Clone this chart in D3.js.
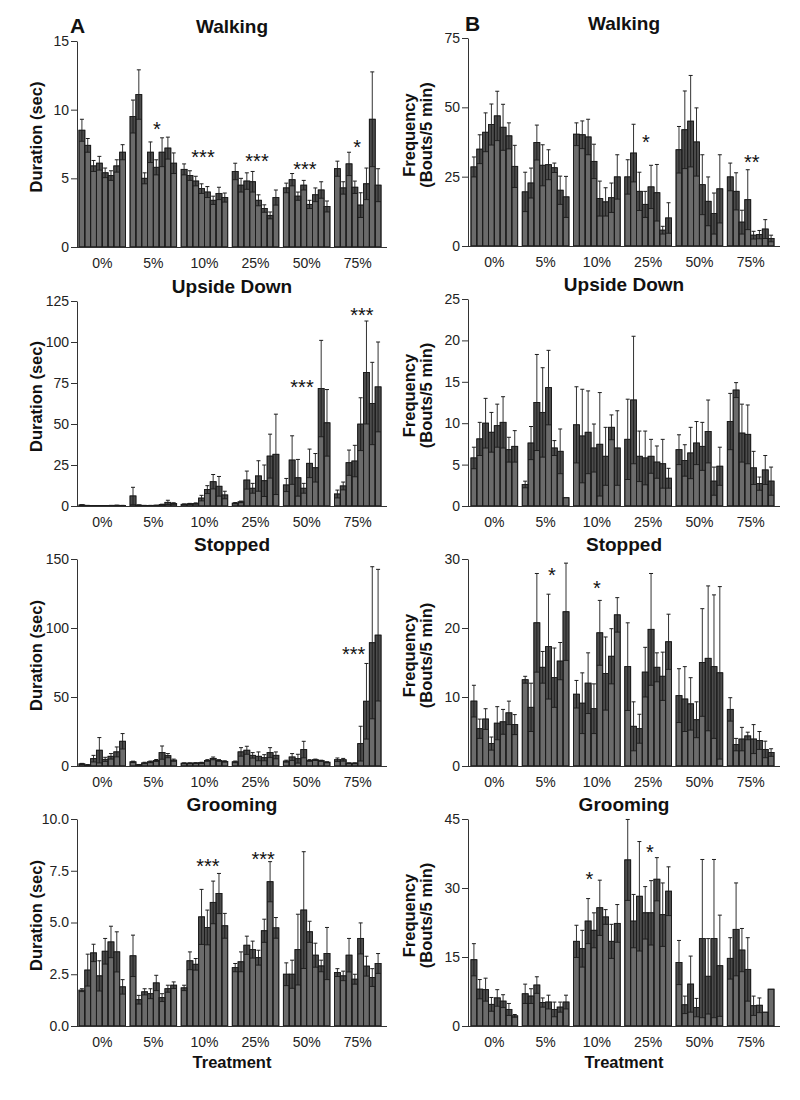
<!DOCTYPE html>
<html><head><meta charset="utf-8">
<script src="https://cdn.jsdelivr.net/npm/d3@7"></script>
<style>body{margin:0;background:#fff}text{font-family:"Liberation Sans",Arial,sans-serif}</style>
</head><body><svg id="c" width="800" height="1100"></svg>
<script>
const groups = ["0%","5%","10%","25%","50%","75%"];

// Walking duration (sec)
const walkDurMean = [[8.5,7.4,5.9,6.1,5.4,5.2,5.9,6.9],[9.5,11.1,5.0,6.9,5.8,6.9,7.2,6.1],[5.65,5.2,4.8,4.25,4.0,3.4,3.9,3.6],[5.5,4.5,4.8,4.75,3.4,2.8,2.3,3.6],[4.3,4.9,3.7,4.5,3.1,3.8,4.15,2.95],[5.7,4.3,6.05,4.35,3.05,4.6,9.3,4.5]];
const walkDurSE = [[0.8,0.5,0.4,0.5,0.35,0.35,0.45,0.55],[1.2,1.8,0.4,0.75,0.55,1.05,0.8,0.75],[0.4,0.35,0.35,0.35,0.4,0.3,0.45,0.33],[0.6,0.5,0.6,0.75,0.4,0.27,0.25,0.55],[0.35,0.45,0.3,0.35,0.3,0.5,0.6,0.4],[0.55,0.45,0.85,0.45,0.9,1.15,3.45,1.2]];
const walkDurTicks = [0,5,10,15];
const walkDurStars = [{g:"5%",at:4.6,v:8.9,t:"*"},{g:"10%",at:3.75,v:6.85,t:"***"},{g:"25%",at:4.25,v:6.55,t:"***"},{g:"50%",at:3.7,v:5.97,t:"***"},{g:"75%",at:3.9,v:7.57,t:"*"}];

// Walking frequency
const walkFreqMean = [[28.5,34.9,41.0,43.8,46.9,42.8,39.7,28.7],[19.5,22.7,37.3,29.1,29.3,28.2,20.1,17.7],[40.3,40.1,39.3,30.5,17.1,15.9,17.4,24.9],[24.9,33.5,19.7,15.0,21.3,19.2,5.7,10.1],[34.7,41.9,45.0,37.5,22.1,16.1,11.7,20.6],[24.9,19.7,8.6,16.7,3.9,4.1,6.1,2.7]];
const walkFreqSE = [[3.6,5.2,7.0,7.4,8.9,8.3,4.7,7.6],[7.1,5.4,6.3,7.4,5.4,1.7,5.1,7.4],[4.1,5.0,6.4,6.2,6.3,5.1,5.3,8.0],[6.2,10.4,6.9,4.7,7.8,10.2,1.4,5.5],[8.4,14.0,16.5,12.3,10.8,8.8,7.4,12.3],[5.0,6.7,4.3,10.8,1.4,1.5,3.4,1.2]];
const walkFreqTicks = [0,25,50,75];
const walkFreqStars = [{g:"25%",at:3.6,v:38.9,t:"*"},{g:"75%",at:4.2,v:31.7,t:"**"}];

// Upside down duration
const upDurMean = [[0.6,0.3,0.2,0.2,0.2,0.3,0.4,0.3],[6.1,0.5,0.3,0.3,0.4,0.8,2.2,1.5],[1.0,1.3,1.5,4.8,10.0,14.8,12.0,6.7],[1.7,2.5,15.8,10.8,18.3,15.4,30.4,31.5],[12.8,28.0,17.2,10.8,26.0,23.3,71.6,50.7],[7.3,12.2,26.4,27.4,49.9,81.4,62.5,72.6]];
const upDurSE = [[0.2,0.1,0.1,0.1,0.1,0.1,0.1,0.1],[5.3,0.2,0.1,0.1,0.1,0.3,1.3,0.5],[0.3,0.3,0.4,1.7,2.4,4.4,6.0,2.3],[0.4,0.5,5.5,3.0,9.3,9.6,13.4,24.5],[4.0,14.8,11.2,3.0,8.7,8.7,29.4,20.3],[2.4,2.4,7.7,9.6,16.1,31.4,25.1,27.4]];
const upDurTicks = [0,25,50,75,100,125];
const upDurStars = [{g:"50%",at:3.2,v:75.0,t:"***"},{g:"75%",at:4.7,v:118.9,t:"***"}];

// Upside down frequency
const upFreqMean = [[5.8,8.1,10.0,8.9,9.7,10.1,6.8,7.2],[2.6,7.6,12.5,11.3,14.3,7.0,6.6,1.0],[9.8,8.45,8.9,7.0,7.45,6.0,9.5,7.0],[8.05,12.8,6.0,5.8,6.0,5.3,5.1,3.35],[6.8,5.5,6.4,7.6,7.2,9.0,3.0,4.8],[10.2,14.0,8.8,8.65,4.6,2.7,4.35,3.0]];
const upFreqSE = [[1.3,2.0,3.0,2.4,2.6,3.1,1.5,1.9],[0.4,2.0,5.8,5.4,4.5,0.9,2.7,0],[4.6,5.65,5.0,2.9,6.25,3.5,1.5,4.5],[4.85,7.7,3.05,3.25,2.05,1.95,2.95,1.2],[1.8,1.9,3.1,2.6,2.9,3.8,1.7,2.3],[3.4,0.9,3.5,3.55,2.0,0.8,1.75,1.7]];
const upFreqTicks = [0,5,10,15,20,25];
const upFreqStars = [];

// Stopped duration
const stopDurMean = [[1.5,0.7,5.3,11.4,4.8,7.0,10.2,17.9],[3.0,0.8,2.2,3.0,4.0,9.7,7.5,4.2],[2.0,2.0,2.1,2.3,4.0,5.5,4.0,3.3],[3.0,10.2,11.4,7.7,7.0,6.0,9.7,7.7],[3.5,6.5,5.3,11.9,4.0,4.5,3.8,2.7],[4.5,4.5,2.0,2.0,16.2,46.9,89.3,94.8]];
const stopDurSE = [[0.4,0.3,2.4,9.2,1.5,2.0,3.6,5.6],[0.5,0.3,0.5,0.6,0.7,4.8,1.5,0.8],[0.3,0.3,0.3,0.4,0.6,1.0,0.6,0.5],[0.6,3.1,2.9,2.0,3.2,2.2,3.6,2.5],[0.7,2.5,3.2,6.0,0.6,0.5,0.4,0.4],[1.3,1.0,0.3,0.3,12.6,27.4,55.1,47.7]];
const stopDurTicks = [0,50,100,150];
const stopDurStars = [{g:"75%",at:3.3,v:84,t:"***"}];

// Stopped frequency
const stopFreqMean = [[9.4,5.4,6.8,3.25,6.2,6.4,7.7,6.0],[12.5,8.5,20.75,14.3,17.3,12.8,15.2,22.35],[10.4,9.1,12.0,8.3,19.3,13.4,15.9,21.9],[14.4,5.75,5.4,13.6,19.8,14.3,13.0,18.0],[10.2,9.7,9.0,6.7,15.0,15.6,14.4,13.5],[8.2,3.1,3.9,4.35,3.9,3.7,2.4,1.95]];
const stopFreqSE = [[2.3,1.4,1.5,0.95,2.4,1.8,1.7,1.45],[0.5,3.5,7.15,2.3,7.6,4.3,2.7,7.05],[2.0,4.4,4.4,3.6,4.7,5.3,4.0,2.5],[6.35,3.55,2.1,3.6,8.1,2.1,3.5,4.0],[3.9,4.7,3.8,2.6,7.8,10.5,10.4,12.5],[1.7,0.9,1.7,0.55,2.1,1.3,1.2,0.55]];
const stopFreqTicks = [0,10,20,30];
const stopFreqStars = [{g:"5%",at:5.1,v:28.3,t:"*"},{g:"10%",at:4.0,v:26.4,t:"*"}];

// Grooming duration
const groomDurMean = [[1.73,2.7,3.53,2.42,3.61,4.06,3.58,1.89],[3.39,1.27,1.65,1.56,2.08,1.37,1.8,1.97],[1.84,3.15,2.98,5.27,4.76,5.97,6.4,4.84],[2.82,3.1,3.9,3.69,3.3,4.6,6.97,4.74],[2.5,2.5,3.69,5.6,4.55,3.42,2.9,3.5],[2.58,2.42,3.42,2.26,4.23,2.89,2.34,3.02]];
const groomDurSE = [[0.07,0.77,0.42,0.73,0.62,0.76,0.97,0.35],[1.0,0.21,0.15,0.24,0.37,0.19,0.17,0.16],[0.13,0.43,0.28,1.33,0.84,1.03,0.97,0.6],[0.2,0.48,0.44,0.41,0.36,0.56,0.97,0.5],[0.55,0.68,1.71,2.82,0.51,0.58,0.28,1.26],[0.19,0.23,0.81,0.24,0.75,0.48,0.43,0.48]];
const groomDurTicks = [0,2.5,5,7.5,10];
const groomDurStars = [{g:"10%",at:4.6,v:7.92,t:"***"},{g:"25%",at:5.3,v:8.26,t:"***"}];

// Grooming frequency
const groomFreqMean = [[14.4,8.0,7.9,4.7,6.1,5.4,3.6,2.2],[7.0,6.5,8.9,5.1,5.2,3.6,4.1,5.2],[18.4,16.8,22.8,20.8,25.7,23.7,18.4,22.3],[36.1,22.8,28.2,24.6,24.6,31.9,24.2,29.3],[13.8,4.6,9.1,4.0,19.0,10.8,19.0,13.1],[14.7,21.0,16.5,12.3,4.4,4.5,3.0,8.0]];
const groomFreqSE = [[3.5,2.1,2.5,1.5,1.8,1.4,1.3,0.3],[2.1,1.6,1.8,1.0,1.5,1.6,1.1,1.5],[3.5,4.0,4.9,3.8,6.0,1.6,3.7,4.1],[8.8,5.8,11.9,5.7,7.0,4.7,6.9,5.3],[4.8,1.9,6.1,2.0,17.2,8.2,17.2,11.0],[4.5,10.1,4.7,6.9,2.1,1.6,0,0]];
const groomFreqTicks = [0,15,30,45];
const groomFreqStars = [{g:"10%",at:2.7,v:32.8,t:"*"},{g:"25%",at:4.3,v:38.7,t:"*"}];

const titles = ["Walking","Upside Down","Stopped","Grooming"];
const panels = [
  {c:0,r:0,m:walkDurMean,se:walkDurSE,ticks:walkDurTicks,stars:walkDurStars,fmt:d3.format("d")},
  {c:1,r:0,m:walkFreqMean,se:walkFreqSE,ticks:walkFreqTicks,stars:walkFreqStars,fmt:d3.format("d")},
  {c:0,r:1,m:upDurMean,se:upDurSE,ticks:upDurTicks,stars:upDurStars,fmt:d3.format("d")},
  {c:1,r:1,m:upFreqMean,se:upFreqSE,ticks:upFreqTicks,stars:upFreqStars,fmt:d3.format("d")},
  {c:0,r:2,m:stopDurMean,se:stopDurSE,ticks:stopDurTicks,stars:stopDurStars,fmt:d3.format("d")},
  {c:1,r:2,m:stopFreqMean,se:stopFreqSE,ticks:stopFreqTicks,stars:stopFreqStars,fmt:d3.format("d")},
  {c:0,r:3,m:groomDurMean,se:groomDurSE,ticks:groomDurTicks,stars:groomDurStars,fmt:d3.format(".1f")},
  {c:1,r:3,m:groomFreqMean,se:groomFreqSE,ticks:groomFreqTicks,stars:groomFreqStars,fmt:d3.format("d")}
];

const cols = [{x0:77,x1:387,g0:79,g1:381,lab:"A"},{x0:468,x1:780,g0:471,g1:774,lab:"B"}];
const rowsA = [{top:41,bot:247},{top:301,bot:506},{top:559,bot:766},{top:819,bot:1026}];
const rowsB = [{top:38,bot:246},{top:299,bot:506},{top:559,bot:766},{top:819,bot:1026}];

const svg = d3.select("#c");
svg.append("rect").attr("width",800).attr("height",1100).attr("fill","#fff");

panels.forEach(p => {
  const col = cols[p.c];
  const row = (p.c===0?rowsA:rowsB)[p.r];
  const g = svg.append("g");
  const maxV = p.ticks[p.ticks.length-1];
  const y = d3.scaleLinear().domain([0,maxV]).range([row.bot,row.top]);
  const gx = d3.scaleBand().domain(groups).range([col.g0,col.g1]).paddingInner(0.09).paddingOuter(0);
  const bx = d3.scaleBand().domain(d3.range(8)).range([0,gx.bandwidth()]);
  const bw = bx.bandwidth();

  const items = [];
  groups.forEach((gr,gi) => p.m[gi].forEach((v,i) => items.push({gr,i,v,se:p.se[gi][i]})));

  // bars
  g.selectAll("rect.bar").data(items).join("rect")
    .attr("x",d=>gx(d.gr)+bx(d.i)).attr("width",bw)
    .attr("y",d=>y(d.v)).attr("height",d=>row.bot-y(d.v))
    .attr("fill","#6b6b6b").attr("stroke","#1c1c1c").attr("stroke-width",0.9);
  // lower error region (darker)
  const errItems = items.filter(d=>d.se>0);
  g.selectAll("rect.err").data(errItems).join("rect")
    .attr("x",d=>gx(d.gr)+bx(d.i)+0.5).attr("width",bw-1)
    .attr("y",d=>y(d.v)).attr("height",d=>y(Math.max(0,d.v-d.se))-y(d.v))
    .attr("fill","#4c4c4c");
  g.selectAll("line.lo").data(errItems).join("line")
    .attr("x1",d=>gx(d.gr)+bx(d.i)).attr("x2",d=>gx(d.gr)+bx(d.i)+bw)
    .attr("y1",d=>y(Math.max(0,d.v-d.se))).attr("y2",d=>y(Math.max(0,d.v-d.se)))
    .attr("stroke","#1c1c1c").attr("stroke-width",0.9);
  g.selectAll("line.vert").data(errItems).join("line")
    .attr("x1",d=>gx(d.gr)+bx(d.i)+bw/2).attr("x2",d=>gx(d.gr)+bx(d.i)+bw/2)
    .attr("y1",d=>y(Math.max(0,d.v-d.se))).attr("y2",d=>y(d.v+d.se))
    .attr("stroke","#1c1c1c").attr("stroke-width",0.9);
  g.selectAll("line.cap").data(errItems).join("line")
    .attr("x1",d=>gx(d.gr)+bx(d.i)+bw/2-2).attr("x2",d=>gx(d.gr)+bx(d.i)+bw/2+2)
    .attr("y1",d=>y(d.v+d.se)).attr("y2",d=>y(d.v+d.se))
    .attr("stroke","#1c1c1c").attr("stroke-width",1);
  // bar edges redraw
  g.selectAll("rect.edge").data(items).join("rect")
    .attr("x",d=>gx(d.gr)+bx(d.i)).attr("width",bw)
    .attr("y",d=>y(d.v)).attr("height",d=>row.bot-y(d.v))
    .attr("fill","none").attr("stroke","#1c1c1c").attr("stroke-width",0.9);

  // y axis
  const ya = g.append("g").attr("transform",`translate(${col.x0},0)`)
    .call(d3.axisLeft(y).tickValues(p.ticks).tickFormat(p.fmt).tickSize(6).tickSizeOuter(0).tickPadding(2));
  ya.selectAll("path,line").attr("stroke","#333");
  ya.selectAll("text").attr("font-size",14).attr("fill","#222").attr("font-family","Liberation Sans, Arial, sans-serif");
  // x axis line
  g.append("line").attr("x1",col.x0).attr("x2",col.x1).attr("y1",row.bot+0.5).attr("y2",row.bot+0.5)
    .attr("stroke","#333").attr("stroke-width",1.2);
  g.selectAll("text.xl").data(groups).join("text")
    .attr("x",d=>gx(d)+gx.bandwidth()/2).attr("y",row.bot+21)
    .attr("text-anchor","middle").attr("font-size",14).attr("fill","#222").text(d=>d);

  // title
  g.append("text").attr("x",(col.x0+col.x1)/2).attr("y",row.top-8)
    .attr("text-anchor","middle").attr("font-size",19).attr("font-weight","bold").attr("fill","#111")
    .text(titles[p.r]);

  // y label
  const cy = (row.top+row.bot)/2 - 7;
  if (p.c===0) {
    g.append("text").attr("transform",`translate(42,${cy}) rotate(-90)`)
      .attr("text-anchor","middle").attr("font-size",16.5).attr("font-weight","bold").attr("fill","#111")
      .text("Duration (sec)");
  } else {
    g.append("text").attr("transform",`translate(415,${cy}) rotate(-90)`)
      .attr("text-anchor","middle").attr("font-size",16.5).attr("font-weight","bold").attr("fill","#111")
      .text("Frequency");
    g.append("text").attr("transform",`translate(432,${cy}) rotate(-90)`)
      .attr("text-anchor","middle").attr("font-size",16.5).attr("font-weight","bold").attr("fill","#111")
      .text("(Bouts/5 min)");
  }

  // stars
  g.selectAll("text.star").data(p.stars).join("text")
    .attr("x",d=>gx(d.g)+d.at*bw).attr("y",d=>y(d.v)+11)
    .attr("text-anchor","middle").attr("font-size",20).attr("fill","#111").text(d=>d.t);

  if (p.r===3) {
    g.append("text").attr("x",(col.x0+col.x1)/2).attr("y",row.bot+42)
      .attr("text-anchor","middle").attr("font-size",16.5).attr("font-weight","bold").attr("fill","#111")
      .text("Treatment");
  }
  if (p.r===0) {
    g.append("text").attr("x",p.c===0?70:465).attr("y",p.c===0?33:31)
      .attr("font-size",21).attr("font-weight","bold").attr("fill","#111").text(col.lab);
  }
});
</script></body></html>
